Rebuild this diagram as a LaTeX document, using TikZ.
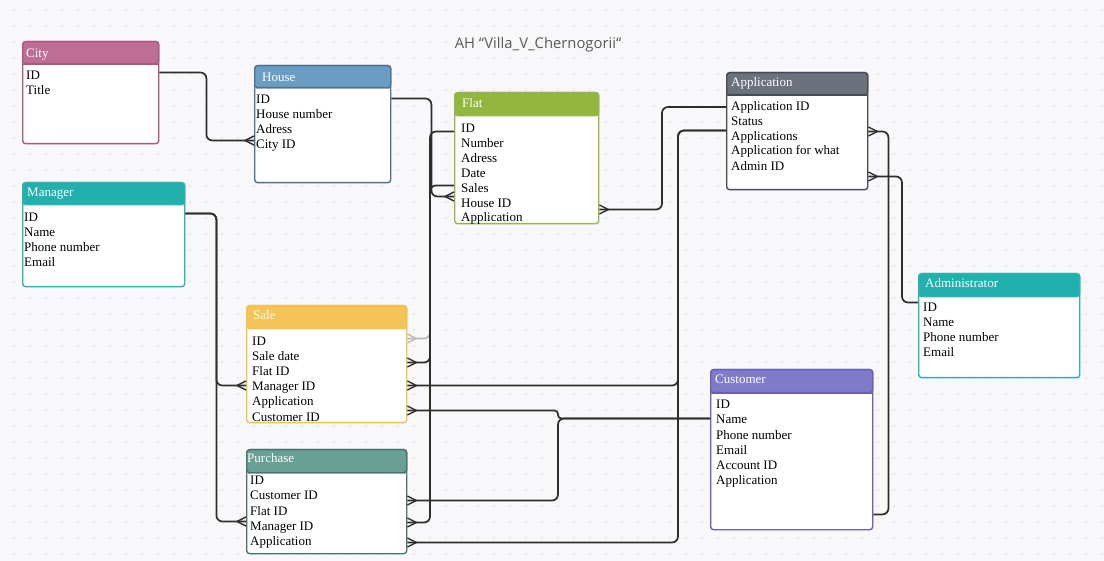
\documentclass[tikz,border=0pt]{standalone}
\usepackage{fontspec}
\setmainfont{Liberation Serif}
\newfontfamily\titlefont{Open Sans}
\usetikzlibrary{positioning, calc, decorations.markings}

\definecolor{bgc}{HTML}{F8F8FA}
\definecolor{dotc}{HTML}{D6D6DD}
\definecolor{linec}{HTML}{2E2E2E}
\definecolor{titlec}{HTML}{5A5A5A}
\definecolor{cityc}{HTML}{BE6E94}  \definecolor{cityb}{HTML}{A9587E}
\definecolor{housec}{HTML}{6A9DC3} \definecolor{houseb}{HTML}{50708F}
\definecolor{flatc}{HTML}{93B63F}  \definecolor{flatb}{HTML}{93B84A}
\definecolor{appc}{HTML}{6C717D}   \definecolor{appb}{HTML}{474B54}
\definecolor{tealc}{HTML}{22B0AD}  \definecolor{tealb}{HTML}{2EB3B0}
\definecolor{salec}{HTML}{F4C458}  \definecolor{saleb}{HTML}{F3C24F}
\definecolor{purc}{HTML}{68A095}   \definecolor{purb}{HTML}{4C726E}
\definecolor{custc}{HTML}{7F7BC9}  \definecolor{custb}{HTML}{6760B4}

\begin{document}
\begin{tikzpicture}[x=1pt, y=-1pt,
    tbl/.style={draw, fill=white, rounded corners=3pt, line width=1.4pt, anchor=north west, inner sep=0pt},
    hdr/.style={rounded corners=3pt, line width=1.4pt, anchor=north west, inner sep=0pt},
    hdrtxt/.style={text=white, anchor=base west, inner sep=0pt, font=\fontsize{13}{15}\selectfont},
    row/.style={anchor=west, inner sep=0pt, text height=11pt, text depth=0pt, font=\fontsize{13}{15}\selectfont},
    conn/.style={color=linec, line width=1.7pt, rounded corners=6pt},
    faded/.style={color=gray!55},
    crow/.style={postaction={decorate}, decoration={markings,
        mark=at position 1 with {\draw[sharp corners, line width=1.4pt] (0pt,4.5pt) -- (-9pt,0pt) -- (0pt,-4.5pt);}}}]

    % ---------------- BACKGROUND ----------------
    \fill[bgc] (0,0) rectangle (1104,561);
    \useasboundingbox (0,0) rectangle (1104,561);
    \foreach \x in {14,30,...,1104} \foreach \y in {10,26,...,561} \fill[dotc] (\x,\y) circle (0.9pt);

    \node[font=\titlefont\fontsize{14.8}{17}\selectfont, text=titlec, anchor=base, inner sep=0pt] (title) at (538,49) {AH “Villa\_V\_Chernogorii“};

    % ---------------- TABLES ----------------
    % City
    \node[tbl, draw=cityb, minimum width=136pt, minimum height=102pt] (city) at (22,41) {};
    \node[hdr, fill=cityc, draw=cityb, minimum width=136pt, minimum height=22pt] (city-h) at (city.north west) {};
    \draw[cityb, line width=1pt] (city-h.south west) -- (city-h.south east);
    \node[hdrtxt] (city-t) at (26,58) {City};
    \node[row] (city-id) at (26,74.5) {ID}; \node[row] (city-title) at (26,89.5) {Title};

    % House
    \node[tbl, draw=houseb, minimum width=136pt, minimum height=117pt] (house) at (254,65) {};
    \node[hdr, fill=housec, draw=houseb, minimum width=136pt, minimum height=22pt] (house-h) at (house.north west) {};
    \draw[houseb!60, line width=1pt] (house-h.south west) -- (house-h.south east);
    \node[hdrtxt] (house-t) at (262,82) {House};
    \node[row] (house-id) at (256,98.5) {ID}; \node[row] (house-num) at (256,113.5) {House number};
    \node[row] (house-adr) at (256,128.5) {Adress}; \node[row] (house-city) at (256,143.5) {City ID};

    % Flat
    \node[tbl, draw=flatb, minimum width=144pt, minimum height=131pt] (flat) at (454,92) {};
    \node[hdr, fill=flatc, draw=flatb, minimum width=144pt, minimum height=23pt] (flat-h) at (flat.north west) {};
    \node[hdrtxt] (flat-t) at (462,108) {Flat};
    \node[row] (flat-id) at (461,127.5) {ID}; \node[row] (flat-num) at (461,142.5) {Number};
    \node[row] (flat-adr) at (461,157.5) {Adress}; \node[row] (flat-date) at (461,172.5) {Date};
    \node[row] (flat-sales) at (461,187.5) {Sales}; \node[row] (flat-house) at (461,202.5) {House ID};
    \node[row] (flat-app) at (461,216.5) {Application};

    % Application
    \node[tbl, draw=appb, minimum width=141pt, minimum height=117pt] (app) at (726,72) {};
    \node[hdr, fill=appc, draw=appb, minimum width=141pt, minimum height=22pt] (app-h) at (app.north west) {};
    \draw[appb, line width=1pt] (app-h.south west) -- (app-h.south east);
    \node[hdrtxt] (app-t) at (731,87) {Application};
    \node[row] (app-id) at (731,105.5) {Application ID}; \node[row] (app-status) at (731,120.5) {Status};
    \node[row] (app-apps) at (731,135.5) {Applications}; \node[row] (app-what) at (731,149.5) {Application for what};
    \node[row] (app-admin) at (731,165.5) {Admin ID};

    % Manager
    \node[tbl, draw=tealb, minimum width=162pt, minimum height=104pt] (manager) at (22,182) {};
    \node[hdr, fill=tealc, draw=tealb, minimum width=162pt, minimum height=22pt] (manager-h) at (manager.north west) {};
    \node[hdrtxt] (manager-t) at (27,197) {Manager};
    \node[row] (mgr-id) at (24,216.5) {ID}; \node[row] (mgr-name) at (24,231.5) {Name};
    \node[row] (mgr-phone) at (24,246.5) {Phone number}; \node[row] (mgr-email) at (24,261.5) {Email};

    % Administrator
    \node[tbl, draw=tealb, minimum width=161pt, minimum height=104pt] (admin) at (918,273) {};
    \node[hdr, fill=tealc, draw=tealb, minimum width=161pt, minimum height=23pt] (admin-h) at (admin.north west) {};
    \node[hdrtxt] (admin-t) at (925,288) {Administrator};
    \node[row] (adm-id) at (923,306.5) {ID}; \node[row] (adm-name) at (923,321.5) {Name};
    \node[row] (adm-phone) at (923,336.5) {Phone number}; \node[row] (adm-email) at (923,351.5) {Email};

    % Sale
    \node[tbl, draw=saleb, minimum width=160pt, minimum height=117pt] (sale) at (246,305) {};
    \node[hdr, fill=salec, draw=saleb, minimum width=160pt, minimum height=23pt] (sale-h) at (sale.north west) {};
    \node[hdrtxt] (sale-t) at (253,320) {Sale};
    \node[row] (sale-id) at (252,340.5) {ID}; \node[row] (sale-date) at (252,355.5) {Sale date};
    \node[row] (sale-flat) at (252,370.5) {Flat ID}; \node[row] (sale-mgr) at (252,385.5) {Manager ID};
    \node[row] (sale-app) at (252,400.5) {Application}; \node[row] (sale-cust) at (252,415.5) {Customer ID};

    % Purchase
    \node[tbl, draw=purb, minimum width=160pt, minimum height=104pt] (purchase) at (246,449) {};
    \node[hdr, fill=purc, draw=purb, minimum width=160pt, minimum height=23pt] (purchase-h) at (purchase.north west) {};
    \draw[purb!60, line width=1pt] (purchase-h.south west) -- (purchase-h.south east);
    \node[hdrtxt] (purchase-t) at (247,463) {Purchase};
    \node[row] (pur-id) at (250,479.5) {ID}; \node[row] (pur-cust) at (250,494.5) {Customer ID};
    \node[row] (pur-flat) at (250,509.5) {Flat ID}; \node[row] (pur-mgr) at (250,524.5) {Manager ID};
    \node[row] (pur-app) at (250,539.5) {Application};

    % Customer
    \node[tbl, draw=custb, minimum width=162pt, minimum height=160pt] (customer) at (710,369) {};
    \node[hdr, fill=custc, draw=custb, minimum width=162pt, minimum height=23pt] (customer-h) at (customer.north west) {};
    \draw[custb, line width=1pt] (customer-h.south west) -- (customer-h.south east);
    \node[hdrtxt] (customer-t) at (715,384) {Customer};
    \node[row] (cust-id) at (716,403.5) {ID}; \node[row] (cust-name) at (716,418.5) {Name};
    \node[row] (cust-phone) at (716,433.5) {Phone number}; \node[row] (cust-email) at (716,448.5) {Email};
    \node[row] (cust-acc) at (716,463.5) {Account ID}; \node[row] (cust-app) at (716,478.5) {Application};

    % ---------------- CONNECTORS ----------------
    \coordinate (fade) at (430,328);
    \draw[conn, faded, crow] (fade) |- ($(sale.east |- sale-id)+(0,-2)$);

    \draw[conn, crow] ($(city.east |- city-id)+(0,-2)$) -- ++(47,0) |- ($(house.west |- house-city)+(0,-3)$);
    \draw[conn, crow] (house.east |- house-id) -- ++(40,0) |- ($(flat.west |- flat-house)+(0,-6)$);
    \draw[conn, crow] ($(flat.west |- flat-id)+(0,4)$) -- ++(-24,0) |- ($(sale.east |- sale-flat)+(0,-8)$);
    \draw[conn, crow] ($(flat.west |- flat-sales)+(0,-2)$) -- ++(-24,0) |- ($(purchase.east |- pur-mgr)+(0,-2)$);

    \draw[conn, crow] ($(manager.east |- mgr-id)+(0,-3)$) -- ++(31,0) |- (sale.west |- sale-mgr);
    \draw[conn, crow] ($(manager.east |- mgr-id)+(0,-3)$) -- ++(31,0) |- ($(purchase.west |- pur-mgr)+(0,-3)$);

    \draw[conn, rounded corners=3.5pt, crow] (customer.west |- cust-name) -- ++(-152,0) |- ($(sale.east |- sale-cust)+(0,-5)$);
    \draw[conn, crow] (customer.west |- cust-name) -- ++(-152,0) |- ($(purchase.east |- pur-cust)+(0,6)$);

    \draw[conn, crow] ($(app.west |- app-id)+(0,1.5)$) -- ++(-64,0) |- ($(flat.east |- flat-app)+(0,-7)$);
    \draw[conn, crow] ($(app.west |- app-apps)+(0,-5)$) -- ++(-48,0) |- (sale.east |- sale-mgr);
    \draw[conn, crow] ($(app.west |- app-apps)+(0,-5)$) -- ++(-48,0) |- ($(purchase.east |- pur-app)+(0,3)$);
    \draw[conn, crow] ($(customer.south east)+(0,-16)$) -- ++(15,0) |- ($(app.east |- app-apps)+(0,-4)$);
    \draw[conn, crow] ($(admin.west |- adm-id)+(0,-4)$) -- ++(-16,0) |- ($(app.east |- app-admin)+(0,11)$);
\end{tikzpicture}
\end{document}
